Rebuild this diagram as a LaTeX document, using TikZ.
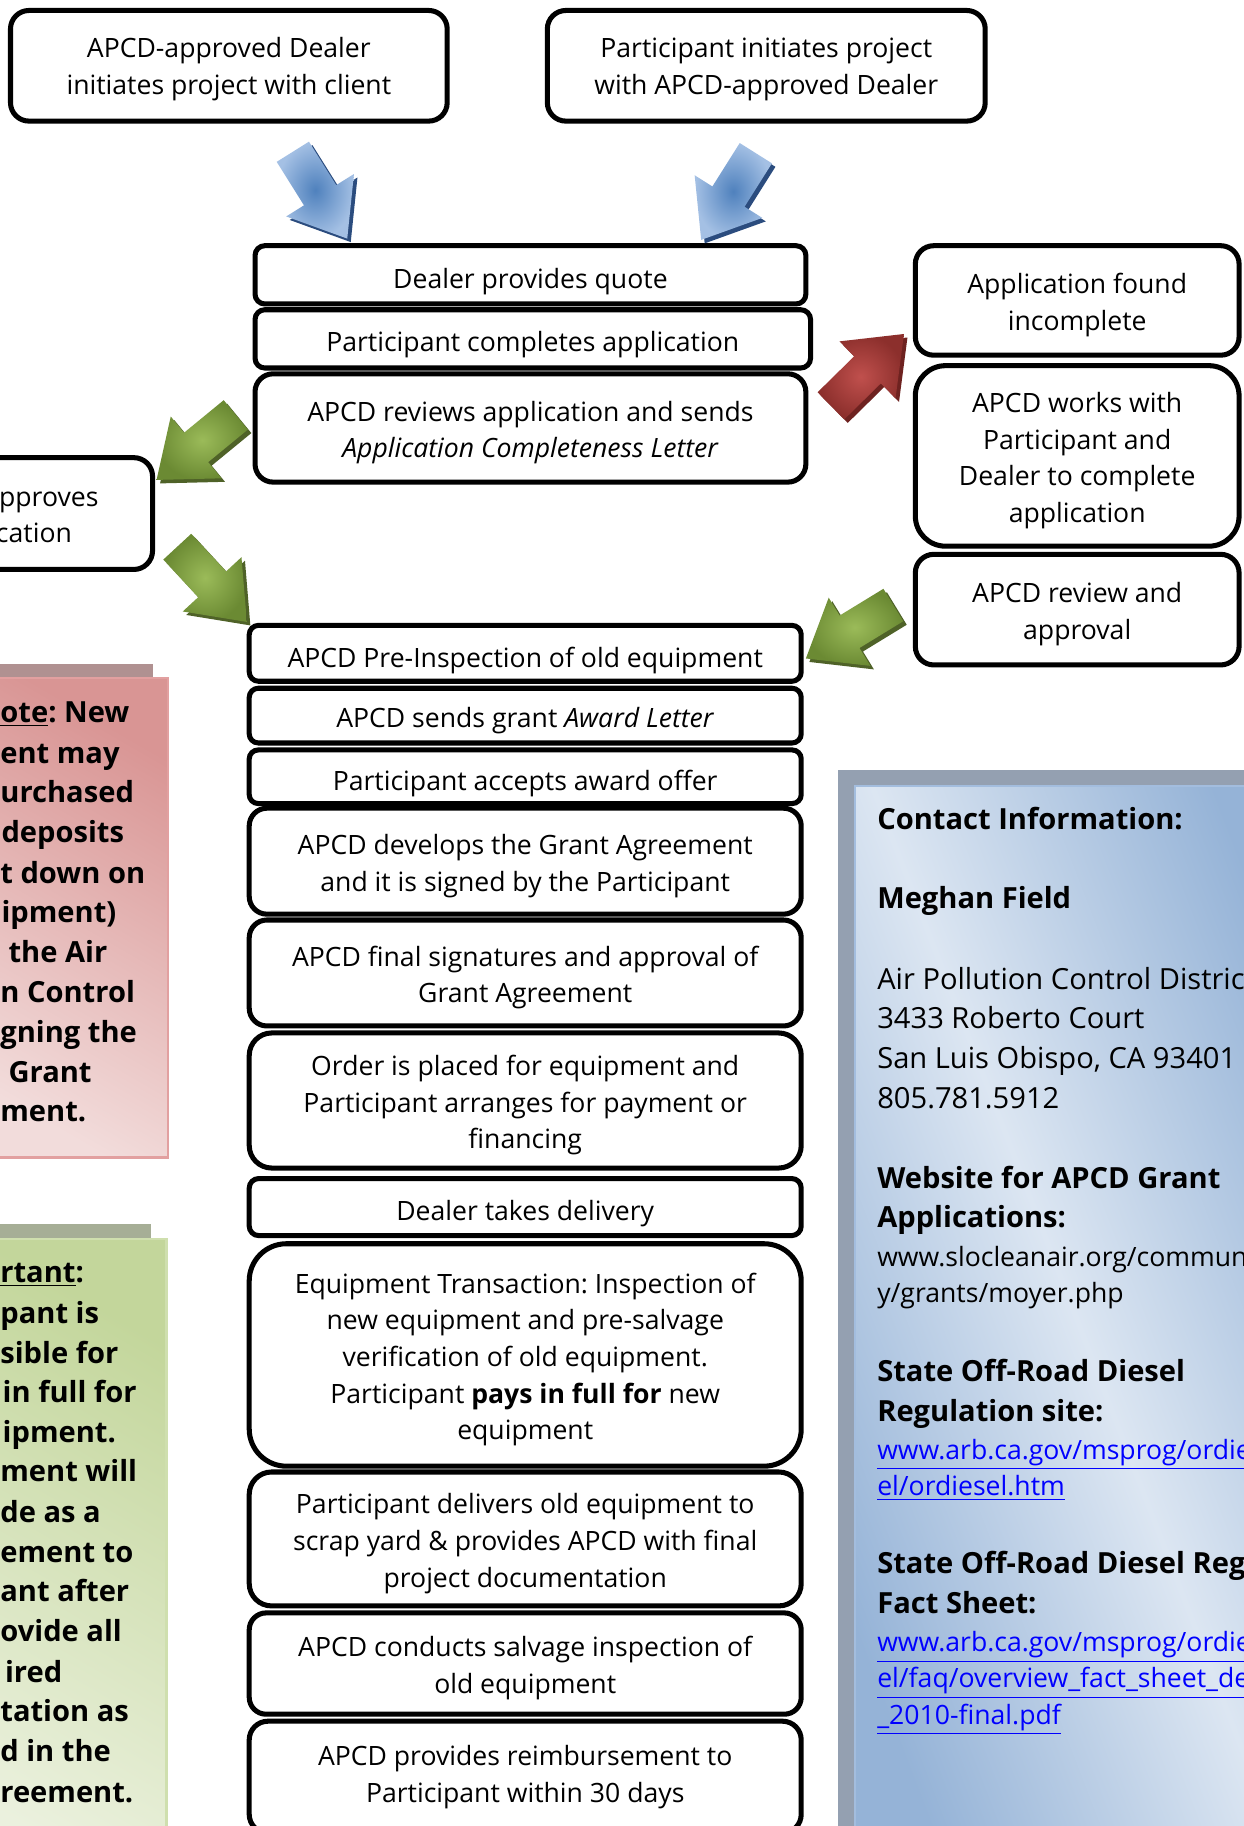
\documentclass[tikz,border=0pt]{standalone}
\usepackage{fontspec}
\setmainfont{Open Sans}
\usetikzlibrary{shapes.arrows,calc}
\definecolor{ablueI}{HTML}{4F81BD}
\definecolor{ablueO}{HTML}{A4C0E4}
\definecolor{ablueD}{HTML}{2B4C7E}
\definecolor{agreenI}{HTML}{9BBB59}
\definecolor{agreenO}{HTML}{6B8A33}
\definecolor{agreenD}{HTML}{4F6228}
\definecolor{aredI}{HTML}{C0504D}
\definecolor{aredO}{HTML}{8C2F2C}
\definecolor{aredD}{HTML}{6E2220}
\definecolor{pinkD}{HTML}{D99594}
\definecolor{pinkL}{HTML}{F2DCDB}
\definecolor{pinkS}{HTML}{B09191}
\definecolor{pinkB}{HTML}{E2A0A0}
\definecolor{grnD}{HTML}{C3D69B}
\definecolor{grnL}{HTML}{EBF1DE}
\definecolor{grnS}{HTML}{A6AE96}
\definecolor{grnB}{HTML}{CFDFAE}
\definecolor{bluD}{HTML}{95B3D7}
\definecolor{bluL}{HTML}{DCE6F2}
\definecolor{bluS}{HTML}{94A0B1}
\definecolor{bluB}{HTML}{A3BDDE}
\definecolor{linkblue}{HTML}{0000FF}
\newcommand\mf{\fontsize{13.7pt}{18.9pt}\selectfont}
\newcommand\nf{\fontsize{15pt}{20.6pt}\selectfont\bfseries}
\newcommand\cf{\fontsize{15pt}{20.6pt}\selectfont}
\newcommand\cfb{\fontsize{15pt}{20.6pt}\selectfont\bfseries}
\tikzset{
  flow/.style={draw=black, line width=2.6pt, fill=white, inner sep=0pt},
  ftext/.style={align=center, inner sep=0pt, font=\mf},
  barrow/.style={single arrow, sloped, allow upside down, minimum height=52.8pt,
    inner xsep=0pt, inner ysep=9.6pt, single arrow head extend=10.8pt,
    single arrow tip angle=76, draw=none},
  ntext/.style={anchor=mid west, inner sep=0pt, font=\nf},
  ctext/.style={anchor=mid west, inner sep=0pt}
}
\newcommand\stepnode[7]{%
  \pgfmathsetmacro\cx{(#2+#4)/2}\pgfmathsetmacro\cy{(#3+#5)/2}%
  \pgfmathsetmacro\bw{(#4-#2)*0.6}\pgfmathsetmacro\bh{(#5-#3)*0.6}%
  \pgfmathsetmacro\br{0.167*(#5-#3)*0.6}%
  \node[flow, minimum width=\bw pt, minimum height=\bh pt, rounded corners=\br pt] (#1) at (\cx,\cy) {};
  \node[ftext] (#1t) at (\cx,\cy+#7) {#6};}
\newcommand\blockarrow[6]{%
  \path ([shift={(3,3)}]#1) -- ([shift={(3,3)}]#2) node[barrow, pos=0.41, fill=#5] (#6d) {};
  \path (#1) -- (#2) node[barrow, pos=0.41, shade, shading=radial, inner color=#3, outer color=#4] (#6) {};}
\begin{document}
\frenchspacing
\begin{tikzpicture}[x=0.6pt,y=-0.6pt]
\useasboundingbox (0,0) rectangle (1068,1568);
\clip (0,0) rectangle (1068,1568);
\fill[white] (0,0) rectangle (1068,1568);

% ---------- note boxes (left) ----------
\fill[pinkS] (-30,570) rectangle (131,982);
\shade[top color=pinkD, bottom color=pinkL, shading angle=-30] (-30,582) rectangle (144,994);
\draw[pinkB, line width=1.2pt] (-30,582) rectangle (144,994);

\fill[grnS] (-30,1051) rectangle (130,1620);
\shade[top color=grnD, bottom color=grnL, shading angle=-30] (-30,1064) rectangle (143,1630);
\draw[grnB, line width=1.2pt] (-30,1064) rectangle (143,1630);

% ---------- contact box (right) ----------
\fill[bluS] (720,661) rectangle (1120,1620);
\shade[top color=bluD, bottom color=bluD, middle color=bluL, shading angle=-69] (734,675) rectangle (1130,1630);
\draw[bluB, line width=1.2pt] (734,675) rectangle (1130,1630);

% ---------- flow boxes ----------
\stepnode{a1}{9}{9}{384}{104}{APCD-approved Dealer\\initiates project with client}{3}
\stepnode{a2}{470}{9}{846}{104}{Participant initiates project\\with APCD-approved Dealer}{3}
\stepnode{b1}{219}{211}{692}{261}{Dealer provides quote}{6}
\stepnode{b2}{219}{266}{696}{316}{Participant completes application}{5}
\stepnode{b3}{219}{321}{692}{414}{APCD reviews application and sends\\\textit{Application Completeness Letter}}{4}
\stepnode{c1}{786}{211}{1064}{305}{Application found\\incomplete}{4}
\stepnode{c2}{786}{314}{1064}{469}{APCD works with\\Participant and\\Dealer to complete\\application}{4}
\stepnode{c3}{786}{476}{1064}{571}{APCD review and\\approval}{4}
\stepnode{d}{-125}{393}{131}{489}{APCD approves\\application}{4}
\stepnode{e1}{214}{537}{688}{585}{APCD Pre-Inspection of old equipment}{6}
\stepnode{e2}{214}{591}{688}{638}{APCD sends grant \textit{Award Letter}}{4}
\stepnode{e3}{214}{644}{688}{690}{Participant accepts award offer}{6}
\stepnode{e4}{214}{694}{688}{785}{APCD develops the Grant Agreement\\and it is signed by the Participant}{4}
\stepnode{e5}{214}{790}{688}{881}{APCD final signatures and approval of\\Grant Agreement}{4}
\stepnode{e6}{214}{887}{688}{1003}{Order is placed for equipment and\\Participant arranges for payment or\\financing}{4}
\stepnode{e7}{214}{1012}{688}{1061}{Dealer takes delivery}{6}
\stepnode{e8}{214}{1068}{688}{1259}{Equipment Transaction: Inspection of\\new equipment and pre-salvage\\verification of old equipment.\\Participant \textbf{pays in full for} new\\equipment}{4}
\stepnode{e9}{214}{1264}{688}{1379}{Participant delivers old equipment to\\scrap yard \& provides APCD with final\\project documentation}{4}
\stepnode{e10}{214}{1385}{688}{1472}{APCD conducts salvage inspection of\\old equipment}{4}
\stepnode{e11}{214}{1478}{688}{1574}{APCD provides reimbursement to\\Participant within 30 days}{0}

% ---------- block arrows ----------
\coordinate (p1s) at (250,128); \coordinate (p1t) at (297,203);
\coordinate (p2s) at (650,130); \coordinate (p2t) at (604,203);
\coordinate (p3s) at (712,350); \coordinate (p3t) at (774,289);
\coordinate (p4s) at (204,355); \coordinate (p4t) at (137,410);
\coordinate (p5s) at (150,467); \coordinate (p5t) at (211,533);
\coordinate (p6s) at (768,519); \coordinate (p6t) at (696,563);
\blockarrow{p1s}{p1t}{ablueI}{ablueO}{ablueD}{arr1}
\blockarrow{p2s}{p2t}{ablueI}{ablueO}{ablueD}{arr2}
\blockarrow{p3s}{p3t}{aredI}{aredO}{aredD}{arr3}
\blockarrow{p4s}{p4t}{agreenI}{agreenO}{agreenD}{arr4}
\blockarrow{p5s}{p5t}{agreenI}{agreenO}{agreenD}{arr5}
\blockarrow{p6s}{p6t}{agreenI}{agreenO}{agreenD}{arr6}

% ---------- red note text ----------
\node[ntext] (r1) at (0,616) {\underline{ote}: New};
\node[ntext] (r2) at (0,651) {ent may};
\node[ntext] (r3) at (0,685) {urchased};
\node[ntext] (r4) at (1,719) {deposits};
\node[ntext] (r5) at (0,754) {t down on};
\node[ntext] (r6) at (1,788) {ipment)};
\node[ntext] (r7) at (7,822) {the Air};
\node[ntext] (r8) at (0,856) {n Control};
\node[ntext] (r9) at (0,891) {gning the};
\node[ntext] (r10) at (7,925) {Grant};
\node[ntext] (r11) at (0,959) {ment.};

% ---------- green note text ----------
\node[ntext] (g1) at (0,1097) {\underline{rtant}:};
\node[ntext] (g2) at (0,1132) {pant is};
\node[ntext] (g3) at (0,1166) {sible for};
\node[ntext] (g4) at (2,1200) {in full for};
\node[ntext] (g5) at (2,1234) {ipment.};
\node[ntext] (g6) at (0,1268) {ment will};
\node[ntext] (g7) at (0,1303) {de as a};
\node[ntext] (g8) at (0,1337) {ement to};
\node[ntext] (g9) at (0,1371) {ant after};
\node[ntext] (g10) at (0,1405) {ovide all};
\node[ntext] (g11) at (4,1440) {ired};
\node[ntext] (g12) at (0,1474) {tation as};
\node[ntext] (g13) at (0,1508) {d in the};
\node[ntext] (g14) at (0,1543) {reement.};

% ---------- contact text ----------
\node[ctext, font=\cfb] (k1) at (753,708) {Contact Information:};
\node[ctext, font=\cfb] (k2) at (753,776) {Meghan Field};
\node[ctext, font=\cf] (k3) at (753,845) {Air Pollution Control Distric};
\node[ctext, font=\cf] (k4) at (753,879) {3433 Roberto Court};
\node[ctext, font=\cf] (k5) at (753,913) {San Luis Obispo, CA 93401};
\node[ctext, font=\cf] (k6) at (753,947) {805.781.5912};
\node[ctext, font=\cfb] (k7) at (753,1016) {Website for APCD Grant};
\node[ctext, font=\cfb] (k8) at (753,1050) {Applications:};
\node[ctext, font=\mf] (k9) at (753,1083) {www.slocleanair.org/commun};
\node[ctext, font=\mf] (k10) at (753,1114) {y/grants/moyer.php};
\node[ctext, font=\cfb] (k11) at (753,1182) {State Off-Road Diesel};
\node[ctext, font=\cfb] (k12) at (753,1216) {Regulation site:};
\node[ctext, font=\mf, text=linkblue] (k13) at (753,1249) {\underline{www.arb.ca.gov/msprog/ordie}};
\node[ctext, font=\mf, text=linkblue] (k14) at (753,1280) {\underline{el/ordiesel.htm}};
\node[ctext, font=\cfb] (k15) at (753,1347) {State Off-Road Diesel Reg};
\node[ctext, font=\cfb] (k16) at (753,1381) {Fact Sheet:};
\node[ctext, font=\mf, text=linkblue] (k17) at (753,1414) {\underline{www.arb.ca.gov/msprog/ordie}};
\node[ctext, font=\mf, text=linkblue] (k18) at (753,1445) {\underline{el/faq/overview\_fact\_sheet\_de}};
\node[ctext, font=\mf, text=linkblue] (k19) at (753,1476) {\underline{\_2010-final.pdf}};
\end{tikzpicture}
\end{document}
